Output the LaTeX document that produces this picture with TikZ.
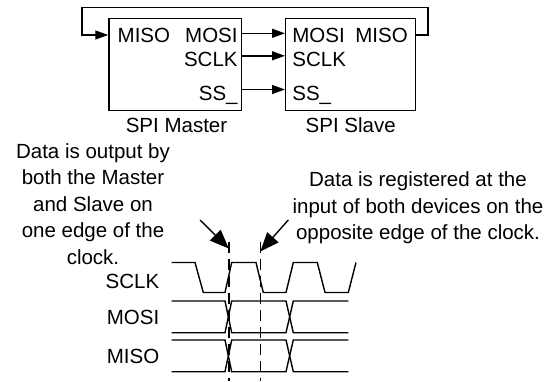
\documentclass[tikz,border=0pt]{standalone}
\usepackage{fontspec}
\setmainfont{Liberation Sans}
\usetikzlibrary{arrows.meta}
\begin{document}
\begin{tikzpicture}[x=1pt,y=-1pt,line width=1.4pt,
  box/.style={draw,inner sep=0pt,minimum height=92pt},
  lbl/.style={font=\fontsize{20.5}{26.5}\selectfont,inner sep=0pt},
  arr/.style={-{Triangle[length=13pt,width=9pt]}},
  bigarr/.style={-{Triangle[length=19pt,width=15pt]}},
  guide/.style={line width=1.6pt,dash pattern=on 11pt off 6pt},
  wave/.style={line join=miter}]
\useasboundingbox (0,0) rectangle (558,381);
% blocks
\node[box,minimum width=132.7pt] (master) at (175.3,64.4) {};
\node[box,minimum width=130pt] (slave) at (350.7,64.4) {};
\node[lbl,anchor=base west] (mMISO) at (117,42.7) {MISO};
\node[lbl,anchor=base east] (mMOSI) at (238.3,42.7) {MOSI};
\node[lbl,anchor=base east] (mSCLK) at (238.3,66.7) {SCLK};
\node[lbl,anchor=base east] (mSS) at (238.3,100) {SS\_};
\node[lbl,anchor=base west] (sMOSI) at (291.7,42.7) {MOSI};
\node[lbl,anchor=base east] (sMISO) at (408.5,42.7) {MISO};
\node[lbl,anchor=base west] (sSCLK) at (291.7,66.7) {SCLK};
\node[lbl,anchor=base west] (sSS) at (291.7,100) {SS\_};
\node[lbl,anchor=base] (mname) at (176.5,132.8) {SPI Master};
\node[lbl,anchor=base] (sname) at (350.7,132.8) {SPI Slave};
% port levels
\coordinate (pMOSI) at (0,33.3);
\coordinate (pSCLK) at (0,55.8);
\coordinate (pSS) at (0,89.5);
\coordinate (pMISO) at (0,35);
\coordinate (fbR) at (428,7.3);
\coordinate (fbL) at (82,7.3);
\draw[arr] (master.east |- pMOSI) -- (slave.west |- pMOSI);
\draw[arr] (master.east |- pSCLK) -- (slave.west |- pSCLK);
\draw[arr] (master.east |- pSS) -- (slave.west |- pSS);
\draw[arr] (slave.east |- pMISO) -| (fbR) -- (fbL) |- (master.west |- pMISO);
% notes
\node[lbl,align=center,anchor=base] (noteL) at (93,264.3) {Data is output by\\both the Master\\and Slave on\\one edge of the\\clock.};
\node[lbl,align=center,anchor=base] (noteR) at (418,239.7) {Data is registered at the\\input of both devices on the\\opposite edge of the clock.};
% timing labels
\node[lbl,anchor=east] (tSCLK) at (160,281.7) {SCLK};
\node[lbl,anchor=east] (tMOSI) at (160,317.8) {MOSI};
\node[lbl,anchor=east] (tMISO) at (160,356.7) {MISO};
% waveforms
\draw[wave] (171.7,262.5) -- (195,262.5) -- (203.3,292.5) -- (225,292.5) -- (231.7,262.5) -- (256,262.5) -- (263.3,292.5) -- (286,292.5) -- (293.3,262.5) -- (317.3,262.5) -- (325,292.5) -- (348.3,292.5) -- (356,262.5);
\draw[wave] (171.7,301) -- (225,301) -- (231.7,332.7) -- (286,332.7) -- (293.3,301) -- (348.3,301);
\draw[wave] (171.7,332.7) -- (225,332.7) -- (231.7,301) -- (286,301) -- (293.3,332.7) -- (348.3,332.7);
\draw[wave] (171.7,340) -- (225,340) -- (231.7,371.7) -- (286,371.7) -- (293.3,340) -- (348.3,340);
\draw[wave] (171.7,371.7) -- (225,371.7) -- (231.7,340) -- (286,340) -- (293.3,371.7) -- (348.3,371.7);
% edge markers
\coordinate (d1t) at (228.8,241.5);
\coordinate (d1b) at (228.8,381);
\coordinate (d2t) at (260.3,241.5);
\coordinate (d2b) at (260.3,381);
\draw[guide] (d1t) -- (d1b);
\draw[guide] (d2t) -- (d2b);
\coordinate (aL) at (200,220);
\coordinate (aR) at (288.3,220);
\draw[bigarr] (aL) -- (d1t |- 0,248.5);
\draw[bigarr] (aR) -- (d2t |- 0,251.5);
\end{tikzpicture}
\end{document}
